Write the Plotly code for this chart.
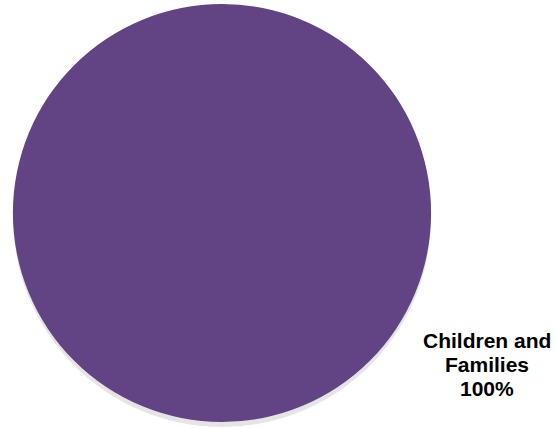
import plotly.graph_objects as go

categories = ["Children and Families"]
values = [100]
label_lines = ["Children and", "Families"]

W, H = 555, 428
fig = go.Figure()

# soft shadow slice behind
fig.add_trace(go.Pie(
    labels=categories, values=values, sort=False,
    marker=dict(colors=["rgba(0,0,0,0.10)"], line=dict(width=0)),
    textinfo="none", hoverinfo="skip", showlegend=False,
    domain=dict(x=[12/W, 432/W], y=[1-427/H, 1-9/H]),
))
fig.add_trace(go.Pie(
    labels=categories, values=values, sort=False,
    marker=dict(colors=["#624384"], line=dict(width=0)),
    textinfo="none", showlegend=False,
    domain=dict(x=[12/W, 432/W], y=[1-422/H, 1-4/H]),
))

pct = values[0] / sum(values) * 100
lines = label_lines + [f"{pct:.0f}%"]
for i, t in enumerate(lines):
    fig.add_annotation(
        text=t, x=487/W, y=1-(340 + 24*i)/H, xref="paper", yref="paper",
        xanchor="center", yanchor="middle",
        showarrow=False, align="center",
        font=dict(family="Liberation Sans, Arial", size=21, color="#000000", weight="bold"),
    )

fig.update_layout(
    width=W, height=H, margin=dict(l=0, r=0, t=0, b=0),
    paper_bgcolor="white", plot_bgcolor="white",
)
fig.write_html("out.html", config={"displayModeBar": False},
               post_script="document.body.style.margin='0';")
